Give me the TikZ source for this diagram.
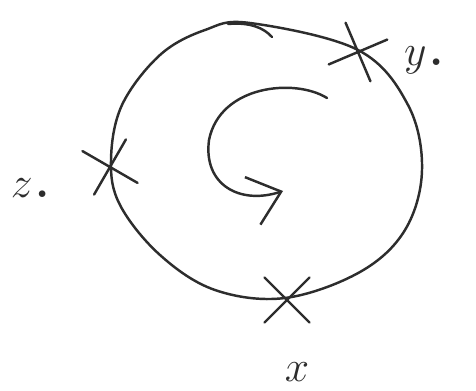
\documentclass[tikz,border=0pt]{standalone}
\usepackage{tikz}
\usetikzlibrary{shapes.misc,arrows.meta,positioning}
\definecolor{pencil}{RGB}{45,45,45}

\begin{document}
\begin{tikzpicture}[
        x=0.02cm, y=-0.02cm,
        stroke/.style={draw=pencil, line width=1.4pt, line cap=round, line join=round},
        mark/.style={cross out, draw=pencil, line width=1.4pt, line cap=round,
            minimum size=0.85cm, inner sep=0pt, rotate=#1},
        lbl/.style={text=pencil, font=\fontsize{46}{46}\selectfont, inner sep=0pt}
    ]
        \useasboundingbox (0,0) rectangle (476,391);
        % the loop
        \draw[stroke] plot[smooth cycle, tension=0.6] coordinates {
            (250,23) (358,50) (408,105) (422,170) (405,230) (360,272)
            (285,298) (215,290) (160,255) (120,205) (111,160) (122,105)
            (160,55) (205,30)};
        \draw[stroke] (228,24) .. controls (250,22) and (264,28) .. (272,37);
        % points on the loop
        \node[mark=-22] (py) at (358,52) {};
        \node[mark=15] (pz) at (110,167) {};
        \node[mark=0] (px) at (287,300) {};
        \node[lbl, right=0.5cm of py] (ly) {$y$.};
        \node[lbl, left=0.7cm of pz, yshift=-0.3cm] (lz) {$z$.};
        \node[lbl, below=0.8cm of px, xshift=0.2cm] (lx) {$x$};
        % sense of travel
        \coordinate (start) at (327,98);
        \coordinate (tip) at (283,191);
        \draw[stroke, -{Straight Barb[length=0.6cm, width=1.0cm, line width=1.4pt]}]
            (start) .. controls (295,78) and (220,85) .. (209,140)
            .. controls (203,185) and (240,205) .. (tip);
    \end{tikzpicture}
\end{document}
